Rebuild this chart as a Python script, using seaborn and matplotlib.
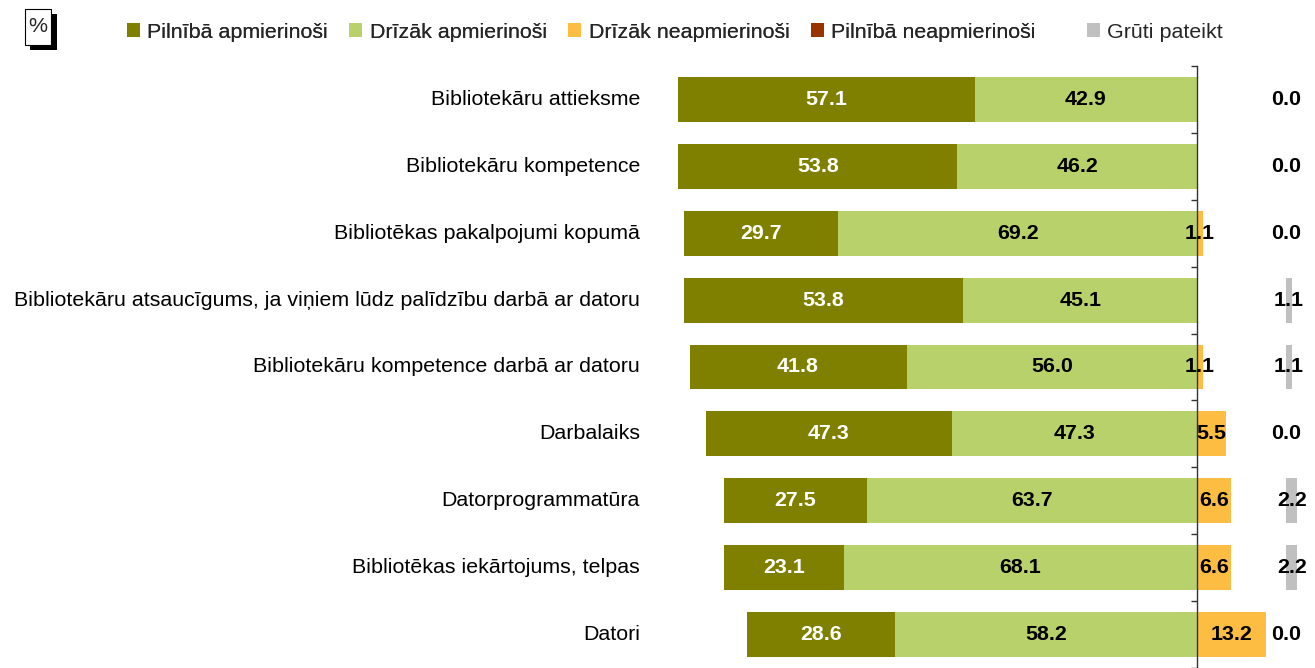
import numpy as np
import pandas as pd
import seaborn as sns
import matplotlib.pyplot as plt
from matplotlib.patches import Patch, Rectangle

# Data (percent)
categories = [
    "Bibliotekāru attieksme",
    "Bibliotekāru kompetence",
    "Bibliotēkas pakalpojumi kopumā",
    "Bibliotekāru atsaucīgums, ja viņiem lūdz palīdzību darbā ar datoru",
    "Bibliotekāru kompetence darbā ar datoru",
    "Darbalaiks",
    "Datorprogrammatūra",
    "Bibliotēkas iekārtojums, telpas",
    "Datori",
]
full_sat = [57.1, 53.8, 29.7, 53.8, 41.8, 47.3, 27.5, 23.1, 28.6]
rather_sat = [42.9, 46.2, 69.2, 45.1, 56.0, 47.3, 63.7, 68.1, 58.2]
rather_unsat = [0.0, 0.0, 1.1, 0.0, 1.1, 5.5, 6.6, 6.6, 13.2]
full_unsat = [0.0, 0.0, 0.0, 0.0, 0.0, 0.0, 0.0, 0.0, 0.0]
hard_to_say = [0.0, 0.0, 0.0, 1.1, 1.1, 0.0, 2.2, 2.2, 0.0]

series_names = ["Pilnībā apmierinoši", "Drīzāk apmierinoši", "Drīzāk neapmierinoši",
                "Pilnībā neapmierinoši", "Grūti pateikt"]
colors = ["#808000", "#B9D16A", "#FDBC42", "#993300", "#C0C0C0"]

HARD_START = 17.1  # where the "hard to say" column begins

df = pd.DataFrame({
    "cat": categories,
    "full_sat": full_sat,
    "rather_sat": rather_sat,
    "rather_unsat": rather_unsat,
    "full_unsat": full_unsat,
    "hard": hard_to_say,
})
df["left_total"] = -(df["full_sat"] + df["rather_sat"])
df["left_inner"] = -df["rather_sat"]
df["right_total"] = df["rather_unsat"] + df["full_unsat"]

sns.set_style("white")
plt.rcParams["font.family"] = ["Liberation Sans", "DejaVu Sans"]

fig = plt.figure(figsize=(13.15, 6.68), dpi=100)
W, H = 1315, 668
ax = fig.add_axes([660 / W, 0, 655 / W, (H - 66) / H])

bw = 0.67
# stacked layers drawn as cumulative bars on top of each other
kw = dict(y="cat", width=bw, saturation=1, linewidth=0, ax=ax)
sns.barplot(data=df, x="left_total", color=colors[0], **kw)
sns.barplot(data=df, x="left_inner", color=colors[1], **kw)
sns.barplot(data=df, x="right_total", color=colors[3], **kw)
sns.barplot(data=df, x="rather_unsat", color=colors[2], **kw)
ypos = np.arange(len(categories))
ax.barh(ypos, df["hard"], left=HARD_START, height=bw, color=colors[4], linewidth=0)

fs = 15.4
for i in range(len(categories)):
    fsv = df.loc[i, "full_sat"]
    rsv = df.loc[i, "rather_sat"]
    ax.text(-rsv - fsv / 2, i, f"{fsv:.1f}", ha="center", va="center",
            color="white", fontsize=fs, fontweight="bold")
    ax.text(-rsv / 2, i, f"{rsv:.1f}", ha="center", va="center",
            color="black", fontsize=fs, fontweight="bold")
    ru = df.loc[i, "rather_unsat"]
    if ru > 0:
        ax.text(ru / 2, i, f"{ru:.1f}", ha="center", va="center",
                color="black", fontsize=fs, fontweight="bold")
    hv = df.loc[i, "hard"]
    ax.text(HARD_START + hv / 2, i, f"{hv:.1f}", ha="center", va="center",
            color="black", fontsize=fs, fontweight="bold")
    ax.text(-0.0305, i, categories[i], transform=ax.get_yaxis_transform(),
            ha="right", va="center", fontsize=fs, color="black")

ax.set_xlim(-103.5, 22.7)
ax.set_yticks(np.arange(-0.5, len(categories), 1))
ax.set_yticklabels([])
ax.set_ylim(len(categories) - 0.5, -0.5)
ax.set_xticks([])
ax.set_xlabel("")
ax.set_ylabel("")
for s in ["top", "right", "bottom"]:
    ax.spines[s].set_visible(False)
ax.spines["left"].set_position(("data", 0))
ax.spines["left"].set_color("#333333")
ax.spines["left"].set_linewidth(1)
ax.tick_params(axis="y", length=4, width=1, color="#333333", direction="out", left=True)

# legend
handles = [Patch(facecolor=c, edgecolor="none") for c in colors]
leg1 = fig.legend(handles[:4], series_names[:4], loc="center left",
                  bbox_to_anchor=(127 / W, 1 - 32 / H), ncol=4, frameon=False,
                  fontsize=fs, handlelength=0.6, handleheight=0.6,
                  handletextpad=0.35, columnspacing=1.0, borderaxespad=0,
                  borderpad=0)
fig.legend(handles[4:], series_names[4:], loc="center left",
           bbox_to_anchor=(1087 / W, 1 - 32 / H), frameon=False,
           fontsize=fs, handlelength=0.6, handleheight=0.6,
           handletextpad=0.35, borderaxespad=0, borderpad=0)
fig.add_artist(leg1)

# "%" box with shadow
fig.patches.append(Rectangle((30 / W, 1 - 50 / H), 27 / W, 36 / H,
                             transform=fig.transFigure, facecolor="black", edgecolor="none"))
fig.patches.append(Rectangle((25 / W, 1 - 45 / H), 26 / W, 36 / H,
                             transform=fig.transFigure, facecolor="white",
                             edgecolor="black", linewidth=0.8))
fig.text(38 / W, 1 - 27 / H, "%", ha="center", va="center", fontsize=fs)

fig.savefig("out.png", dpi=100)
